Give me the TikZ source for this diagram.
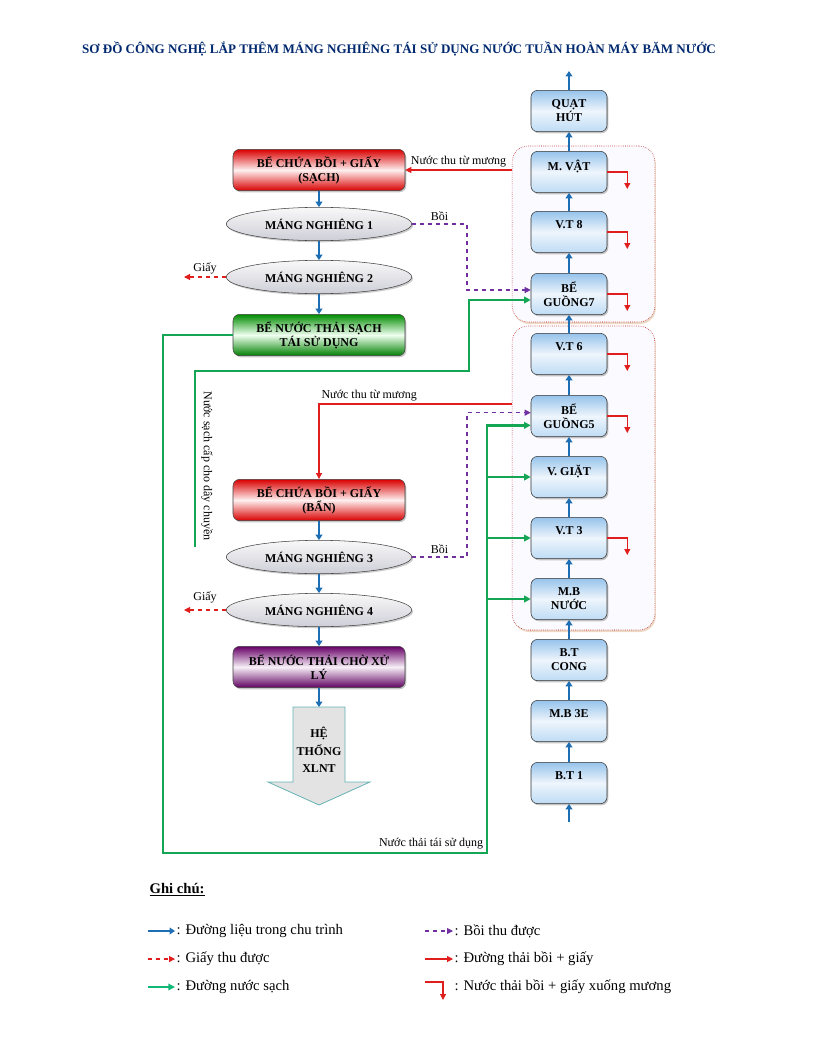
\documentclass[tikz,border=0pt]{standalone}
\usepackage{fontspec}
\setmainfont{Liberation Serif}
\usetikzlibrary{shapes.geometric,shadows,arrows.meta}

\definecolor{xanhlieu}{RGB}{30,110,180}
\definecolor{dothai}{RGB}{225,30,30}
\definecolor{timboi}{RGB}{112,48,160}
\definecolor{xanhsach}{RGB}{20,165,85}
\definecolor{tieude}{RGB}{0,40,110}
\definecolor{may1}{RGB}{150,195,235}
\definecolor{may2}{RGB}{238,245,252}
\definecolor{may3}{RGB}{190,220,245}

\newcommand{\motdong}[1]{#1\\\mbox{}}

\tikzset{
  may/.style={draw=black!80, rounded corners=5pt, minimum width=57pt, minimum height=31pt,
    align=center, inner sep=1pt, font=\bfseries\fontsize{9}{10.5}\selectfont,
    top color=may1, bottom color=may3, middle color=may2,
    drop shadow={shadow xshift=1pt, shadow yshift=-1.2pt, opacity=0.45}},
  be/.style={draw=black!75, rounded corners=5pt, minimum width=129pt, minimum height=31pt,
    align=center, inner sep=1pt, font=\bfseries\fontsize{9}{10.5}\selectfont,
    drop shadow={shadow xshift=1pt, shadow yshift=-1.2pt, opacity=0.45}},
  mang/.style={ellipse, draw=black!75, minimum width=139pt, minimum height=25pt, inner sep=0pt,
    font=\bfseries\fontsize{9}{10.5}\selectfont,
    top color=gray!5, bottom color=blue!10!gray!35,
    drop shadow={shadow xshift=1pt, shadow yshift=-1.2pt, opacity=0.4}},
  nhom/.style={draw=red!70!black, densely dotted, rounded corners=12pt, fill=blue!2,
    minimum width=107pt, drop shadow={shadow xshift=0.8pt, shadow yshift=-1.5pt, fill=brown!60, opacity=0.5}},
  lieu/.style={draw=xanhlieu, line width=1.5pt, -{Triangle[length=4pt,width=5pt]}},
  thai/.style={draw=dothai, line width=0.8pt, -{Triangle[length=4.5pt,width=4.5pt]}},
  boi/.style={draw=timboi, line width=0.8pt, dashed, -{Triangle[length=4.5pt,width=4.5pt]}},
  giay/.style={draw=dothai, line width=0.8pt, dashed, -{Triangle[length=4.5pt,width=4.5pt]}},
  sach/.style={draw=xanhsach, line width=2pt, -{Triangle[length=5pt,width=5pt]}},
  nhan/.style={font=\fontsize{9}{10.5}\selectfont, inner sep=2pt},
  ghichu/.style={font=\fontsize{11}{13}\selectfont, anchor=west, inner sep=1pt},
}

\begin{document}
\begin{tikzpicture}[x=0.75pt,y=-0.75pt]
\useasboundingbox (0,0) rectangle (816,1056);

\node[font=\bfseries\fontsize{9.8}{12}\selectfont, text=tieude] (tieude) at (399,49)
  {SƠ ĐỒ CÔNG NGHỆ LẮP THÊM MÁNG NGHIÊNG TÁI SỬ DỤNG NƯỚC TUẦN HOÀN MÁY BĂM NƯỚC};

% hai nhom may
\node[nhom, minimum height=132pt] (nhom1) at (583.5,234) {};
\node[nhom, minimum height=228pt] (nhom2) at (583.5,478) {};

% day chuyen may
\node[may] (quat) at (569,111) {QUẠT\\HÚT};
\node[may] (mvat) at (569,172) {\motdong{M. VẬT}};
\node[may] (vt8) at (569,232) {\motdong{V.T 8}};
\node[may] (guong7) at (569,294) {BỂ\\GUỒNG7};
\node[may] (vt6) at (569,354) {\motdong{V.T 6}};
\node[may] (guong5) at (569,416) {BỂ\\GUỒNG5};
\node[may] (vgiat) at (569,477) {\motdong{V. GIẶT}};
\node[may] (vt3) at (569,538) {\motdong{V.T 3}};
\node[may] (mbnuoc) at (569,599) {M.B\\NƯỚC};
\node[may] (btcong) at (569,660) {B.T\\CONG};
\node[may] (mb3e) at (569,721) {\motdong{M.B 3E}};
\node[may] (bt1) at (569,783) {\motdong{B.T 1}};

\coordinate (vao) at (569,822);
\coordinate (ra) at (569,71);
\draw[lieu] (vao) -- (bt1);
\foreach \a/\b in {bt1/mb3e,mb3e/btcong,btcong/mbnuoc,mbnuoc/vt3,vt3/vgiat,vgiat/guong5,
                   guong5/vt6,vt6/guong7,guong7/vt8,vt8/mvat,mvat/quat}
  \draw[lieu] (\a) -- (\b);
\draw[lieu] (quat) -- (ra);

% nuoc thai xuong muong
\foreach \n in {mvat,vt8,guong7,vt6,guong5,vt3}
  \draw[thai] (\n.east) -- ++(20,0) -- ++(0,17);

% tuyen mang nghieng tren
\node[be, top color=red!85!black, bottom color=red!85!black, middle color=red!6] (sach1) at (319,170)
  {BỂ CHỨA BỒI + GIẤY\\(SẠCH)};
\node[mang] (mang1) at (319,224) {MÁNG NGHIÊNG 1};
\node[mang] (mang2) at (319,277) {MÁNG NGHIÊNG 2};
\node[be, top color=green!55!black, bottom color=green!50!black, middle color=green!6] (taisd) at (319,335)
  {BỂ NƯỚC THẢI SẠCH\\TÁI SỬ DỤNG};

% tuyen mang nghieng duoi
\node[be, top color=red!85!black, bottom color=red!85!black, middle color=red!6] (ban) at (319,500)
  {BỂ CHỨA BỒI + GIẤY\\(BẨN)};
\node[mang] (mang3) at (319,557) {MÁNG NGHIÊNG 3};
\node[mang] (mang4) at (319,610) {MÁNG NGHIÊNG 4};
\node[be, top color=violet!80!black, bottom color=violet!75!black, middle color=violet!6] (choxl) at (319,667)
  {BỂ NƯỚC THẢI CHỜ XỬ\\LÝ};

\foreach \a/\b in {sach1/mang1,mang1/mang2,mang2/taisd,ban/mang3,mang3/mang4,mang4/choxl}
  \draw[lieu] (\a) -- (\b);

% he thong xlnt
\filldraw[fill=gray!22, draw=teal!60, line width=0.6pt]
  (293,707) -- (345,707) -- (345,782) -- (370,782) -- (319,805) -- (268,782) -- (293,782) -- cycle;
\node[font=\bfseries\fontsize{9}{13}\selectfont, align=center] (xlnt) at (319,750) {HỆ\\THỐNG\\XLNT};
\coordinate (xlntvao) at (319,707);
\draw[lieu] (choxl) -- (xlntvao);

% nuoc thu tu muong
\draw[thai] (nhom1.west |- sach1) -- (sach1.east) node[nhan, midway, above] {Nước thu từ mương};
\coordinate (thu2) at (512,404);
\draw[thai] (thu2) -- (ban.north |- thu2) node[nhan, pos=0.74, above] {Nước thu từ mương} -- (ban.north);

% boi
\draw[boi] (mang1.east) -- (467,224) node[nhan, midway, above] {Bồi} |- ([yshift=3pt]guong7.west);
\draw[boi] (mang3.east) -- (467,557) node[nhan, midway, above] {Bồi} |- ([yshift=2.5pt]guong5.west);

% giay
\coordinate (giay1) at (184,277);
\coordinate (giay2) at (184,610);
\draw[giay] (mang2.west) -- (giay1) node[nhan, midway, above] {Giấy};
\draw[giay] (mang4.west) -- (giay2) node[nhan, midway, above=3pt] {Giấy};

% nuoc sach
\coordinate (capcuoi) at (195,547);
\draw[sach] (capcuoi) -- (195,371) -- (469,371) |- ([yshift=-4.5pt]guong7.west);
\node[nhan, rotate=-90] (capnuoc) at (207,466) {Nước sạch cấp cho dây chuyền};

\draw[sach] (taisd.west) -- (163,335) -- (163,853) -- (487,853)
  node[nhan, pos=1, above left] {Nước thải tái sử dụng} |- ([yshift=-7pt]guong5.west);
\foreach \n in {vgiat,vt3,mbnuoc}
  \draw[sach] (487,0 |- \n.west) -- (\n.west);

% ghi chu
\node[ghichu, font=\bfseries\fontsize{11}{13}\selectfont] (ghichu) at (148,890) {\underline{Ghi chú:}};
\node[ghichu] (g1) at (175,931) {: Đường liệu trong chu trình};
\node[ghichu] (g2) at (175,959) {: Giấy thu được};
\node[ghichu] (g3) at (175,987) {: Đường nước sạch};
\node[ghichu] (g4) at (453,931) {: Bồi thu được};
\node[ghichu] (g5) at (453,959) {: Đường thải bồi + giấy};
\node[ghichu] (g6) at (453,987) {: Nước thải bồi + giấy xuống mương};
\draw[lieu, line width=1pt] (148,931) -- (g1.west);
\draw[giay] (148,959) -- (g2.west);
\draw[sach, line width=1pt, draw=xanhsach!80!cyan] (148,987) -- (g3.west);
\draw[boi] (425,931) -- (g4.west);
\draw[thai] (425,959) -- (g5.west);
\draw[thai] (425,982) -- (443,982) -- (443,1000);
\end{tikzpicture}
\end{document}
